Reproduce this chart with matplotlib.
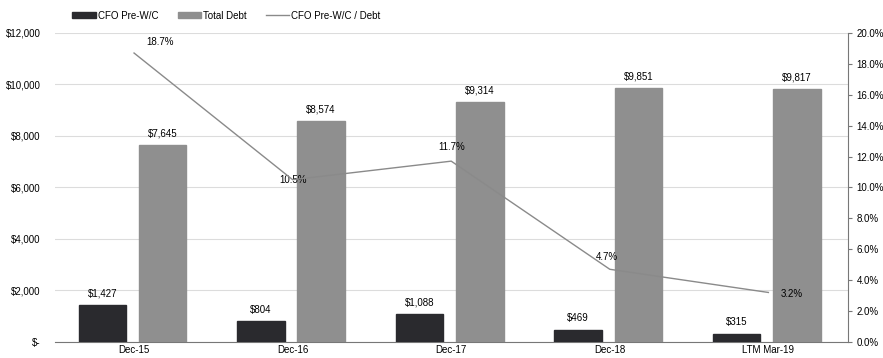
import numpy as np
import matplotlib.pyplot as plt
from matplotlib.ticker import FuncFormatter

categories = ["Dec-15", "Dec-16", "Dec-17", "Dec-18", "LTM Mar-19"]
cfo = [1427, 804, 1088, 469, 315]
debt = [7645, 8574, 9314, 9851, 9817]
ratio = [18.7, 10.5, 11.7, 4.7, 3.2]

plt.rcParams["font.family"] = ["Liberation Sans", "DejaVu Sans"]
plt.rcParams["font.size"] = 7
plt.rcParams["hatch.color"] = "#b5b5b5"
plt.rcParams["hatch.linewidth"] = 0.4

fig = plt.figure(figsize=(8.83, 3.58), dpi=100)
ax = fig.add_axes([0.062, 0.045, 0.898, 0.863])
ax2 = ax.twinx()

x = np.arange(len(categories))
w = 0.30
b1 = ax.bar(x - 0.2, cfo, w, color="#2a2a2e", edgecolor="#2a2a2e", label="CFO Pre-W/C", zorder=3)
b2 = ax.bar(x + 0.18, debt, w, color="#8f8f8f", edgecolor="#8f8f8f", hatch="....",
            label="Total Debt", zorder=3)

for xi, v in zip(x - 0.2, cfo):
    ax.text(xi, v + 250, f"${v:,}", ha="center", va="bottom", fontsize=7)
for xi, v in zip(x + 0.18, debt):
    ax.text(xi, v + 250, f"${v:,}", ha="center", va="bottom", fontsize=7)

ax.set_xlim(-0.5, len(categories) - 0.5)
ax.set_ylim(0, 12000)
ax.set_yticks(np.arange(0, 12001, 2000))
ax.yaxis.set_major_formatter(FuncFormatter(lambda v, p: "$-" if v == 0 else f"${v:,.0f}"))
ax.set_xticks(x)
ax.set_xticklabels(categories)
ax.tick_params(axis="x", length=0, pad=2)
ax.tick_params(axis="y", length=0, pad=10)
ax.grid(axis="y", color="#dcdcdc", linewidth=0.8, zorder=0)
for s in ["top", "left", "right"]:
    ax.spines[s].set_visible(False)
ax.spines["bottom"].set_color("#777777")

l1, = ax2.plot(x, ratio, color="#8a8a8a", linewidth=1.0, label="CFO Pre-W/C / Debt", zorder=4)
ax2.set_ylim(0, 20)
ax2.set_yticks(np.arange(0, 20.1, 2))
ax2.yaxis.set_major_formatter(FuncFormatter(lambda v, p: f"{v:.1f}%"))
ax2.tick_params(axis="y", length=3, color="#777777")
for s in ["top", "left", "bottom"]:
    ax2.spines[s].set_visible(False)
ax2.spines["right"].set_color("#777777")

offsets = [(0.08, 0.7, "left"), (0.0, 0.0, "center"), (0.0, 0.9, "center"),
           (-0.02, 0.8, "center"), (0.08, -0.1, "left")]
for xi, v, (dx, dy, ha) in zip(x, ratio, offsets):
    ax2.text(xi + dx, v + dy, f"{v:.1f}%", ha=ha, va="center", fontsize=7)

fig.legend([b1, b2, l1], ["CFO Pre-W/C", "Total Debt", "CFO Pre-W/C / Debt"],
           loc="upper left", bbox_to_anchor=(0.072, 0.995), ncol=3, frameon=False,
           fontsize=7, handlelength=2.4, handleheight=0.5, handletextpad=0.2,
           columnspacing=2.0)

fig.savefig("out.png", dpi=100)
